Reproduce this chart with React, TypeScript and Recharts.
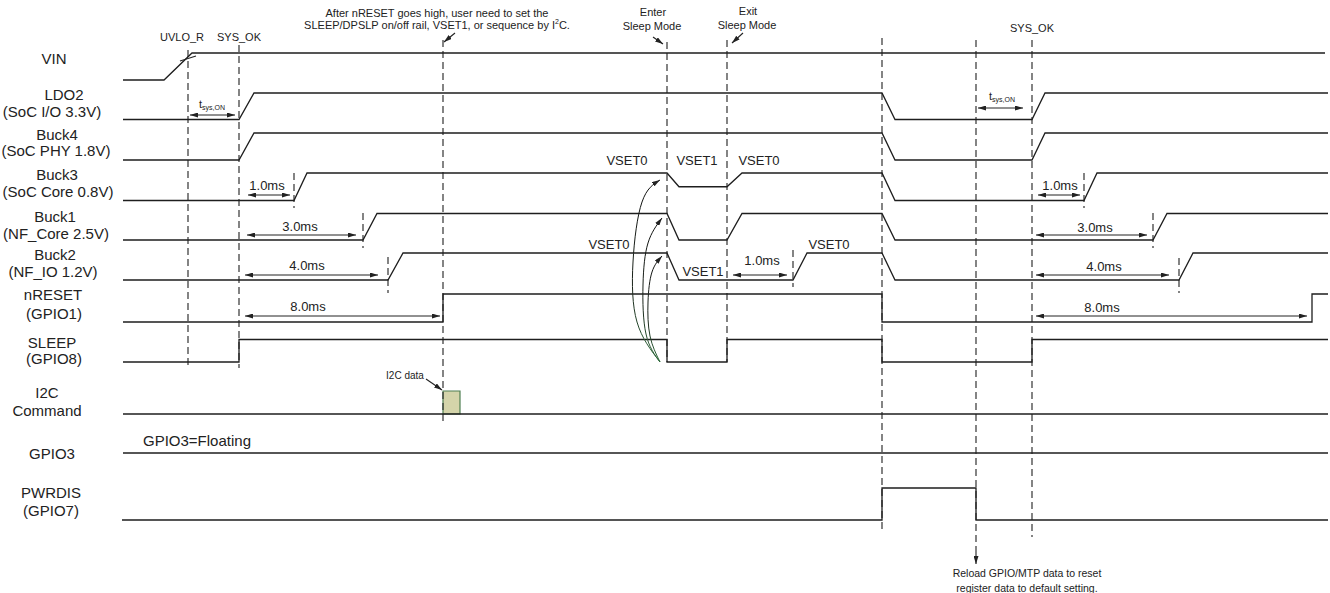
import React from "react";
import {
  ComposedChart, Line, XAxis, YAxis,
  ReferenceLine, ReferenceDot, ReferenceArea,
} from "recharts";

const W = 1330;
const H = 593;
const FONT = "Arial, 'Liberation Sans', Helvetica, sans-serif";
const INK = "#222";

// ─── Waveforms: [time, level]  (0 = low, 1 = high) ────────────────────────────
const VIN_WAVE = [[123, 0], [164, 0], [192, 1], [1325, 1]];
const LDO2_WAVE = [[123, 0], [239, 0], [254, 1], [882, 1], [895, 0], [1032, 0], [1045, 1], [1328, 1]];
const BUCK4_WAVE = [[123, 0], [239, 0], [254, 1], [882, 1], [895, 0], [1032, 0], [1045, 1], [1328, 1]];
const BUCK3_WAVE = [[123, 0], [294, 0], [307, 1], [667, 1], [679, 0.5], [727, 0.5], [742, 1], [882, 1], [895, 0], [1084, 0], [1097, 1], [1328, 1]];
const BUCK1_WAVE = [[123, 0], [363, 0], [377, 1], [667, 1], [679, 0], [727, 0], [742, 1], [882, 1], [895, 0], [1153, 0], [1167, 1], [1328, 1]];
const BUCK2_WAVE = [[123, 0], [388, 0], [403, 1], [667, 1], [679, 0], [793, 0], [807, 1], [882, 1], [895, 0], [1179, 0], [1193, 1], [1328, 1]];
const NRESET_WAVE = [[123, 0], [443, 0], [443, 1], [882, 1], [882, 0], [1312, 0], [1312, 1], [1328, 1]];
const SLEEP_WAVE = [[123, 0], [239, 0], [239, 1], [667, 1], [667, 0], [727, 0], [727, 1], [882, 1], [882, 0], [1032, 0], [1032, 1], [1328, 1]];
const I2C_WAVE = [[123, 0], [1328, 0]];
const GPIO3_WAVE = [[123, 0], [1328, 0]];
const PWRDIS_WAVE = [[122, 0], [882, 0], [882, 1], [976, 1], [976, 0], [1328, 0]];

const WAVES = [VIN_WAVE, LDO2_WAVE, BUCK4_WAVE, BUCK3_WAVE, BUCK1_WAVE, BUCK2_WAVE,
  NRESET_WAVE, SLEEP_WAVE, I2C_WAVE, GPIO3_WAVE, PWRDIS_WAVE];

const SIGNAL_LABELS = [
  ["VIN"], ["LDO2", "(SoC I/O 3.3V)"], ["Buck4", "(SoC PHY 1.8V)"], ["Buck3", "(SoC Core 0.8V)"],
  ["Buck1", "(NF_Core 2.5V)"], ["Buck2", "(NF_IO 1.2V)"], ["nRESET", "(GPIO1)"], ["SLEEP", "(GPIO8)"],
  ["I2C", "Command"], ["GPIO3"], ["PWRDIS", "(GPIO7)"],
];

// row layout: [low y, high y]
const ROW_Y = [[80, 53], [119.5, 93], [160, 133], [200.5, 173], [240, 213.5], [280, 253],
  [322, 294], [362, 339.5], [414, 414], [453, 453], [520, 488]];
// label layout: per line [x, y]
const LABEL_XY = [
  [[54, 58]], [[64, 94], [52, 111]], [[57, 134], [56, 150]], [[57, 174], [58, 191]],
  [[55, 216], [56, 233]], [[55, 254], [53, 271]], [[53, 294], [54, 313]], [[52, 342], [54, 358]],
  [[47, 392], [47, 410]], [[52, 453]], [[51, 492], [51, 510]],
];

// event markers (dashed): [time, y from, y to]
const EVENTS = [
  [188, 50, 368], [239, 45, 368], [443, 40, 423], [667, 42, 362], [727, 40, 362],
  [882, 38, 533], [976, 40, 548], [1032, 40, 537],
  [294, 173, 208], [363, 213, 248], [388, 257, 293], [793, 250, 287],
  [1084, 173, 208], [1153, 213, 248], [1179, 258, 293],
];

// delay dimensions: label, start, end
const DELAY_LABELS = ["tsys", "1.0ms", "3.0ms", "4.0ms", "8.0ms", "1.0ms", "tsys", "1.0ms", "3.0ms", "4.0ms", "8.0ms"];
const DELAY_SPANS = [[190, 235], [248, 290], [247, 356], [245, 378], [245, 440], [733, 787],
  [978, 1023], [1038, 1080], [1036, 1147], [1036, 1169], [1036, 1307]];
// layout: [arrow y, label x, label y]
const DELAY_XY = [[115, 212, 104], [195, 267, 185], [235, 300, 226], [275, 307, 265], [316, 308, 306],
  [275, 762, 260], [108, 1002, 96], [195, 1060, 185], [235, 1095, 227], [275, 1104, 266], [316, 1102, 307]];

const NOTES = [
  { text: "UVLO_R", x: 182, y: 37, size: 11 },
  { text: "SYS_OK", x: 239, y: 37, size: 11 },
  { text: "SYS_OK", x: 1032, y: 28, size: 11 },
  { text: "After nRESET goes high, user need to set the", x: 437, y: 13, size: 11 },
  { text: "Enter", x: 653, y: 12, size: 11 },
  { text: "Sleep Mode", x: 652, y: 26, size: 11 },
  { text: "Exit", x: 748, y: 11, size: 11 },
  { text: "Sleep Mode", x: 747, y: 25, size: 11 },
  { text: "VSET0", x: 627, y: 160, size: 13 },
  { text: "VSET1", x: 697, y: 160, size: 13 },
  { text: "VSET0", x: 759, y: 160, size: 13 },
  { text: "VSET0", x: 609, y: 244, size: 13 },
  { text: "VSET1", x: 703, y: 271, size: 13 },
  { text: "VSET0", x: 829, y: 244, size: 13 },
  { text: "I2C data", x: 405, y: 375, size: 10 },
  { text: "Reload GPIO/MTP data to reset", x: 1027, y: 573, size: 10.5 },
  { text: "register data to default setting.", x: 1027, y: 588, size: 10.5 },
];

// pointer arrows: from -> to
const POINTERS = [
  [[455, 33], [444, 42]], [[653, 37], [663, 44]], [[743, 33], [732, 43]],
  [[426, 379], [442, 390]], [[976, 548], [976, 564]], [[180, 61], [196, 56]],
];

// VSET curves from SLEEP falling edge to the rails
const CURVES = [
  [[660, 362], [637, 322], [633, 262], [642, 202], [660, 180]],
  [[660, 362], [646, 334], [643, 285], [648, 243], [662, 218]],
  [[660, 362], [650, 336], [648, 302], [652, 272], [662, 256]],
];

const toPts = (arr: number[][]) => arr.map(([t, v]) => ({ t, v }));

function textShape(text: React.ReactNode, size: number, anchor = "middle") {
  // eslint-disable-next-line @typescript-eslint/no-explicit-any
  return (p: any) => (
    <text x={p.cx} y={p.cy} fontSize={size} fontFamily={FONT} fill={INK}
      textAnchor={anchor} dominantBaseline="central">{text}</text>
  );
}

export default function App() {
  return (
    <div style={{ width: W, height: H, background: "#fff" }}>
      <style>{"body{margin:0}"}</style>
      <svg width={0} height={0} style={{ position: "absolute" }}>
        <defs>
          <marker id="ah" viewBox="0 0 8 5" refX={8} refY={2.5} markerWidth={8} markerHeight={5}
            markerUnits="userSpaceOnUse" orient="auto-start-reverse">
            <path d="M0,0 L8,2.5 L0,5 z" fill={INK} />
          </marker>
          <linearGradient id="vsetStroke" x1="0" y1="0" x2="0" y2="1">
            <stop offset="0" stopColor="#111" />
            <stop offset="0.6" stopColor="#1a241a" />
            <stop offset="1" stopColor="#2f6b3c" />
          </linearGradient>
        </defs>
      </svg>
      <ComposedChart width={W} height={H} margin={{ top: 0, right: 0, bottom: 0, left: 0 }}>
        <XAxis type="number" dataKey="t" domain={[0, W]} hide allowDataOverflow />
        <YAxis type="number" domain={[0, H]} reversed hide allowDataOverflow />

        {EVENTS.map(([x, y1, y2], i) => (
          <ReferenceLine key={`ev${i}`} segment={[{ x, y: y1 }, { x, y: y2 }]}
            stroke="#333" strokeWidth={1.2} strokeDasharray="7 4" ifOverflow="visible" />
        ))}

        <ReferenceArea x1={443} x2={460} y1={391} y2={414} fill="#d4d4aa" fillOpacity={1}
          stroke="#4f7f52" strokeWidth={1.2} ifOverflow="visible" />

        {WAVES.map((wave, i) => {
          const [lo, hi] = ROW_Y[i];
          const pts = wave.map(([t, lv]) => ({ t, v: lo + (hi - lo) * lv }));
          return (
            <Line key={`w${i}`} data={pts} dataKey="v" type="linear" stroke="#1e1e1e"
              strokeWidth={1.3} dot={false} activeDot={false} isAnimationActive={false} />
          );
        })}

        {DELAY_SPANS.map(([a, b], i) => (
          <Line key={`d${i}`} data={[{ t: a, v: DELAY_XY[i][0] }, { t: b, v: DELAY_XY[i][0] }]}
            dataKey="v" type="linear" stroke={INK} strokeWidth={1} dot={false} activeDot={false}
            markerStart="url(#ah)" markerEnd="url(#ah)" isAnimationActive={false} />
        ))}

        {POINTERS.map(([a, b], i) => (
          <Line key={`p${i}`} data={[{ t: a[0], v: a[1] }, { t: b[0], v: b[1] }]}
            dataKey="v" type="linear" stroke={INK} strokeWidth={1.1} dot={false} activeDot={false}
            markerEnd={i === 5 ? undefined : "url(#ah)"} isAnimationActive={false} />
        ))}

        {CURVES.map((c, i) => (
          <Line key={`c${i}`} data={toPts(c)} dataKey="v" type="natural" stroke="url(#vsetStroke)"
            strokeWidth={1} dot={false} activeDot={false} markerEnd="url(#ah)" isAnimationActive={false} />
        ))}

        {SIGNAL_LABELS.flatMap((lines, i) => lines.map((s, j) => (
          <ReferenceDot key={`l${i}-${j}`} x={LABEL_XY[i][j][0]} y={LABEL_XY[i][j][1]} r={0}
            ifOverflow="visible" shape={textShape(s, 15)} />
        )))}

        {NOTES.map((n, i) => (
          <ReferenceDot key={`n${i}`} x={n.x} y={n.y} r={0} ifOverflow="visible"
            shape={textShape(n.text, n.size)} />
        ))}

        <ReferenceDot x={437} y={25} r={0} ifOverflow="visible"
          shape={textShape(<>SLEEP/DPSLP on/off rail, VSET1, or sequence by I<tspan dy={-4} fontSize={7}>2</tspan><tspan dy={4}>C.</tspan></>, 11)} />

        <ReferenceDot x={143} y={440} r={0} ifOverflow="visible"
          shape={textShape("GPIO3=Floating", 15, "start")} />

        {DELAY_LABELS.map((s, i) => (
          <ReferenceDot key={`dl${i}`} x={DELAY_XY[i][1]} y={DELAY_XY[i][2]} r={0} ifOverflow="visible"
            shape={s === "tsys"
              ? textShape(<>t<tspan dy={3} fontSize={7}>sys,ON</tspan></>, 11)
              : textShape(s, 13)} />
        ))}
      </ComposedChart>
    </div>
  );
}
